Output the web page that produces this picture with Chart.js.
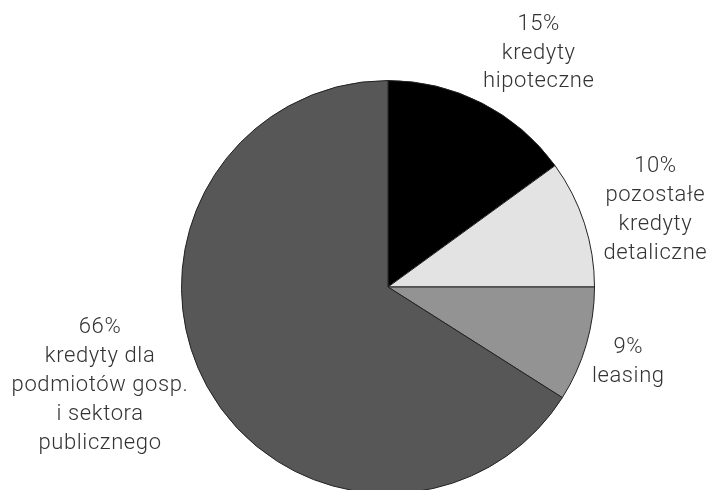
<!DOCTYPE html>
<html>
<head>
<meta charset="utf-8">
<script src="https://cdn.jsdelivr.net/npm/chart.js@4/dist/chart.umd.min.js"></script>
<style>
  html, body { margin: 0; padding: 0; background: #fff; overflow: hidden; }
  #wrap { position: relative; width: 710px; height: 498px; }
</style>
</head>
<body>
<div id="wrap"><canvas id="chart"></canvas></div>
<script>
// dane z wykresu
const categories = [
    ['kredyty', 'hipoteczne'],
    ['pozostałe', 'kredyty', 'detaliczne'],
    ['leasing'],
    ['kredyty dla', 'podmiotów gosp.', 'i sektora', 'publicznego']
];
const shares = [15, 10, 9, 66];
const sliceColors = ['#000000', '#e3e3e3', '#939393', '#575757'];

// przesunięcie etykiety względem środka łuku (na obwodzie)
const labelOffsets = [
    { dx: 57, dy: -50 },
    { dx: 71, dy: -13 },
    { dx: 42, dy: 17 },
    { dx: -107, dy: -1 }
];

const pieLabels = {
    id: 'pieLabels',
    afterDraw(chart) {
        const ctx = chart.ctx;
        const meta = chart.getDatasetMeta(0);
        const lineH = 28.8;
        ctx.save();
        ctx.font = '300 22px Roboto, "DejaVu Sans", sans-serif';
        ctx.letterSpacing = '0.6px';
        ctx.fillStyle = '#333333';
        ctx.textAlign = 'center';
        ctx.textBaseline = 'middle';
        meta.data.forEach((arc, i) => {
            const mid = (arc.startAngle + arc.endAngle) / 2;
            const ax = arc.x + Math.cos(mid) * arc.outerRadius + labelOffsets[i].dx;
            const ay = arc.y + Math.sin(mid) * arc.outerRadius + labelOffsets[i].dy;
            const lines = [shares[i] + '%'].concat(categories[i]);
            const top = ay - (lines.length - 1) * lineH / 2;
            lines.forEach((t, j) => ctx.fillText(t, ax, top + j * lineH));
        });
        ctx.restore();
    }
};

document.addEventListener('DOMContentLoaded', () => {
    const ctx = document.getElementById('chart').getContext('2d');
    new Chart(ctx, {
        type: 'pie',
        data: {
            labels: categories.map(c => c.join(' ')),
            datasets: [{
                data: shares,
                backgroundColor: sliceColors,
                borderColor: '#222222',
                borderWidth: 1
            }]
        },
        options: {
            responsive: true,
            maintainAspectRatio: false,
            animation: false,
            layout: { padding: { left: 181, right: 115, top: 80, bottom: 4 } },
            plugins: {
                legend: { display: false },
                tooltip: { enabled: false }
            }
        },
        plugins: [pieLabels]
    });
});
</script>
</body>
</html>
